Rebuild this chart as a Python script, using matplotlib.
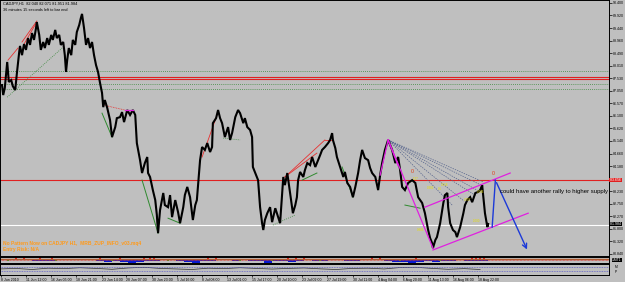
import matplotlib
matplotlib.use('Agg')
import matplotlib.pyplot as plt
import numpy as np

plt.rcParams['font.family'] = ['Liberation Sans', 'DejaVu Sans']

# H1 bar index and close
bars = [5, 8, 12, 18, 22, 28, 32, 38, 42, 48, 50, 55, 60, 65, 70, 75, 80, 85, 90, 92,
        98, 102, 108, 112, 118, 122, 128, 132, 138, 142, 148, 152, 158, 162, 165, 168,
        172, 178, 182, 188, 192, 198, 202, 205, 210, 215, 220, 225, 230, 235, 240, 245, 250,
        255, 258, 262, 268, 275, 280, 288, 292, 300, 305, 310, 318, 325, 332, 338, 342, 350,
        355, 362, 368, 370, 375, 382, 388, 392, 395, 400, 408, 412, 420, 425, 430, 438, 445,
        450, 458, 462, 468, 475, 482, 488, 492, 500, 505, 512, 518, 525, 530, 532, 540, 545,
        550, 555, 562, 570, 575, 580, 588, 595,
        600, 608, 612, 618, 625, 630, 632, 638, 645, 650, 655, 658, 662, 668, 675, 680, 688,
        692, 700, 708, 712, 718, 725, 732, 738, 742, 745, 750, 758, 762, 768, 775, 780, 788,
        795, 800, 805, 812, 820, 825, 830, 832, 838, 842, 850, 858, 862, 868, 875, 882, 888,
        895, 900, 905, 912, 920, 925, 930, 938, 945, 950, 955, 962, 970, 975, 980, 988, 995,
        1000, 1005, 1012, 1020, 1030, 1038, 1045, 1055, 1062, 1070, 1075, 1080, 1082, 1088,
        1092, 1100, 1108, 1112, 1118, 1120, 1125, 1132, 1138, 1142, 1150, 1158, 1162, 1168,
        1175, 1180, 1188, 1195, 1200, 1205, 1208, 1212, 1218, 1220]
close = [87.27, 86.89, 87.16, 88.15, 87.39, 87.46, 87.23, 87.08, 87.69, 88.53, 88.76, 88.41,
         88.83, 88.61, 89.06, 88.80, 89.25, 88.99, 89.44, 89.67, 89.18, 88.61, 88.91, 88.68,
         89.06, 88.80, 89.18, 88.99, 89.37, 89.06, 89.18, 88.80, 88.91, 88.41, 87.77, 88.23,
         88.68, 88.41, 88.99, 88.80, 89.29, 89.56, 89.82, 89.98, 89.44, 88.80, 89.06, 88.68,
         88.91, 88.41, 88.03, 87.77, 87.35,
         86.97, 86.43, 86.70, 86.40, 85.94, 85.29, 85.67, 86.01, 86.05, 86.24, 85.86, 86.32,
         86.13, 86.32, 86.13, 85.06, 84.41, 83.92, 84.30, 84.53, 83.92, 83.77, 83.27, 82.89,
         82.32, 81.63, 82.51, 83.16, 82.70, 82.62, 83.08, 82.24, 82.89, 82.43, 82.01, 82.62,
         83.08, 83.39, 83.00, 82.13, 82.70, 82.89, 84.41, 84.91, 84.80, 85.06, 84.72, 84.91,
         85.82, 86.01, 86.32, 86.01, 85.82, 85.29, 85.67, 85.18, 85.44, 86.05, 86.32,
         86.20, 85.82, 86.01, 85.67, 85.56, 85.29, 84.15, 83.92, 83.65, 82.62, 82.01, 81.75,
         82.13, 82.39, 82.62, 82.05, 82.58, 82.39, 82.01, 83.77, 83.46, 83.92, 83.16, 82.39,
         82.70, 83.00, 83.65, 83.96, 83.77, 84.03, 84.30, 84.22, 84.53, 84.15, 84.41, 84.60,
         84.80, 84.91, 85.06, 85.18, 85.44, 85.18, 84.87, 84.53, 84.15, 83.77, 83.96, 83.54,
         83.39, 83.00, 83.39, 83.92, 84.41, 84.80, 84.49, 84.41, 84.11, 83.92, 83.77, 83.27,
         83.84, 84.30, 84.80, 85.18, 84.99, 84.80, 84.30, 84.53,
         84.03, 83.39, 83.27, 83.54, 83.65, 83.54, 83.00, 82.78, 82.39, 81.75, 81.44, 81.25,
         81.06, 81.37, 81.48, 82.01, 82.78, 83.08, 83.16, 82.62, 82.01, 81.75, 81.67, 81.48,
         81.86, 82.39, 82.70, 82.89, 83.00, 82.81, 83.16, 83.20, 83.27, 83.46, 83.00, 82.39,
         81.86, 81.98]

# drawn objects (bar, price) pairs
red_lines = [((20, 88.22), (45, 88.68)), ((55, 88.91), (92, 89.71)), ((60, 88.83), (92, 89.67)),
             ((505, 84.53), (545, 86.24)), ((712, 83.77), (812, 85.18)), ((812, 85.18), (830, 85.18)),
             ((712, 83.77), (792, 84.68))]
red_dotted = [((258, 86.51), (312, 86.32))]
green_lines = [((255, 86.20), (280, 85.29)), ((355, 83.65), (395, 81.63)), ((420, 82.20), (450, 82.01)),
               ((755, 83.65), (792, 83.92)), ((855, 84.15), (882, 83.00)), ((1012, 82.70), (1050, 82.58))]
green_dotted = [((18, 86.81), (158, 88.72)), ((558, 85.25), (600, 85.18)), ((682, 81.94), (738, 82.32))]
magenta_lines = [((950, 83.84), (970, 85.18)), ((970, 85.18), (1082, 81.06)), ((970, 85.18), (995, 84.20)),
                 ((312, 86.32), (332, 86.32)),
                 ((1062, 82.62), (1275, 83.92)), ((1082, 80.99), (1320, 82.39))]
fan_ends = [(1208, 83.58), (1208, 83.42), (1200, 83.20), (1190, 83.05), (1160, 82.85), (1130, 82.70)]
fan_start = (970, 85.18)
fib_text = [(1075, 83.35, '0.382'), (1112, 83.45, '0.618'), (1100, 83.30, '0.5'), (1200, 83.20, '0.786'),
            (1168, 82.89, '0.707'), (1192, 82.10, '1.000'), (1050, 81.75, '0.886'), (1040, 83.70, '1.27')]
pattern_marks = [(1030, 83.96), (1232, 83.92)]
blue_arrow = [(1230, 81.86), (1238, 83.65), (1320, 80.91)]

red_hlines = [87.58, 87.50, 83.65]
green_hlines = [87.80, 87.31, 87.12]
white_hline = 81.94

price_ticks = [80.840, 81.320, 81.800, 82.270, 82.750, 83.230, 84.180, 84.660, 85.140,
               85.620, 86.100, 86.570, 87.050, 87.530, 88.010, 88.490, 88.960, 89.440, 89.920, 90.400]

time_ticks = [3, 65, 128, 191, 254, 316, 379, 442, 505, 567, 630, 693, 756, 818, 881, 944,
              1007, 1069, 1132, 1195]
time_labels = ['8 Jun 2010', '11 Jun 12:00', '16 Jun 05:00', '18 Jun 21:00', '23 Jun 14:00',
               '28 Jun 07:00', '30 Jun 23:00', '5 Jul 16:00', '8 Jul 08:00', '13 Jul 01:00',
               '15 Jul 17:00', '20 Jul 10:00', '23 Jul 02:00', '27 Jul 19:00', '30 Jul 11:00',
               '4 Aug 04:00', '6 Aug 20:00', '11 Aug 13:00', '16 Aug 06:00', '18 Aug 22:00']

# indicator 1 histogram (every 20 bars) and signals
hist_vals = [-0.2, -0.3, -0.2, -0.3, -0.4, -0.6, -0.5, -0.2, -0.1, -0.3, -0.2, -0.2, -0.5, -0.7,
             -0.6, -0.8, -0.9, -0.7, -0.4, -0.6, -0.3, -0.2, -0.5, -0.8, -0.9, -0.6, -0.4, -0.2,
             -0.3, -0.5, -0.3, -0.6, -0.5, -0.9, -0.6, -0.5, -0.7, -0.5, -0.2, -0.4, -0.6, -0.3,
             -0.2, -0.4, -0.6, -0.3, -0.2, -0.3, -0.6, -0.7, -0.8, -0.9, -0.7, -0.5, -0.8, -0.4,
             -0.6, -0.3, -0.5, -0.4, -0.6, -0.3]
red_sig = [40, 60, 100, 130, 250, 300, 360, 375, 385, 520, 540, 720, 740, 760, 930, 950, 1040,
           1180, 1190, 1200, 1210]
green_sig = [20, 140, 280, 420, 600, 680, 800, 1000, 1100]

# indicator 2 line (every 40 bars)
osc_vals = [0.55, 0.6, 0.5, 0.62, 0.58, 0.66, 0.6, 0.52, 0.64, 0.7, 0.6, 0.55, 0.5, 0.62, 0.58,
            0.66, 0.6, 0.54, 0.6, 0.64, 0.56, 0.5, 0.6, 0.62, 0.55, 0.68, 0.7, 0.6, 0.52, 0.58, 0.5]

bg = '#bfbfbf'
W, H = 625, 282
fig = plt.figure(figsize=(6.25, 2.82), dpi=100, facecolor=bg)

def rect(x0, y0, x1, y1):
    return [x0 / W, 1 - y1 / H, (x1 - x0) / W, (y1 - y0) / H]

ax = fig.add_axes(rect(0, 0, 609, 256), facecolor=bg)
ax1 = fig.add_axes(rect(0, 257, 609, 263), facecolor=bg, sharex=ax)
ax2 = fig.add_axes(rect(0, 264, 609, 275), facecolor=bg, sharex=ax)

ax.set_xlim(0, 1522)
ax.set_ylim(80.76, 90.51)

for p in green_hlines:
    ax.axhline(p, color='#3d8a3d', lw=0.6, ls=(0, (1, 1.5)))
for p in red_hlines:
    ax.axhline(p, color='#e02020', lw=0.8)
ax.axhline(white_hline, color='white', lw=0.8)

for (a, b) in green_dotted:
    ax.plot([a[0], b[0]], [a[1], b[1]], color='#3d8a3d', lw=0.6, ls=(0, (1, 1.5)))
for (a, b) in green_lines:
    ax.plot([a[0], b[0]], [a[1], b[1]], color='#2f8a2f', lw=0.7)
for (a, b) in red_lines:
    ax.plot([a[0], b[0]], [a[1], b[1]], color='#e83030', lw=0.6)
for (a, b) in red_dotted:
    ax.plot([a[0], b[0]], [a[1], b[1]], color='#e83030', lw=0.6, ls=(0, (1, 1)))
for e in fan_ends:
    ax.plot([fan_start[0], e[0]], [fan_start[1], e[1]], color='#56648c', lw=0.5, ls=(0, (2, 1.5)))

ax.plot(bars, close, color='black', lw=1.5, solid_joinstyle='miter')

for (a, b) in magenta_lines:
    ax.plot([a[0], b[0]], [a[1], b[1]], color='#e020e0', lw=0.9)

for (bx, p, s) in fib_text:
    ax.text(bx, p, s, fontsize=2.2, color='#e8e000', ha='center', va='center')
for (bx, p) in pattern_marks:
    ax.text(bx, p, '0', fontsize=3.8, color='#e03a10', ha='center', va='center')

ax.plot([blue_arrow[0][0], blue_arrow[1][0]], [blue_arrow[0][1], blue_arrow[1][1]],
        color='#1c3ad8', lw=1)
ax.annotate('', xy=blue_arrow[2], xytext=blue_arrow[1],
            arrowprops=dict(arrowstyle='->', color='#1c3ad8', lw=1, mutation_scale=8))

ax.text(1250, 83.20, 'could have another rally to higher supply', fontsize=4.3,
        color='black', ha='left', va='center')

ax.text(3 / 609, 1 - 2 / 256, 'CADJPY,H1  82.040 82.071 81.951 81.984', transform=ax.transAxes,
        fontsize=2.8, va='top', ha='left', color='black')
ax.text(3 / 609, 1 - 8 / 256, '36 minutes 15 seconds left to bar end', transform=ax.transAxes,
        fontsize=2.8, va='top', ha='left', color='black')
ax.text(3 / 609, 1 - 243 / 256, 'No Pattern Now on CADJPY H1,  MRB_ZUP_INFO_v03.mq4',
        transform=ax.transAxes, fontsize=3.5, fontweight='bold', va='center', ha='left',
        color='#ff9a1a')
ax.text(3 / 609, 1 - 250 / 256, 'Entry Risk: N/A', transform=ax.transAxes, fontsize=3.5,
        fontweight='bold', va='center', ha='left', color='#ff9a1a')

ax.yaxis.tick_right()
ax.set_yticks(price_ticks)
ax.set_yticklabels(['%.3f' % v for v in price_ticks])
ax.tick_params(axis='y', labelsize=2.6, length=2, width=0.5, pad=1, colors='black')
ax.tick_params(axis='x', bottom=False, labelbottom=False)

ax.text(1.0, 83.65, ' 83.656 ', transform=ax.get_yaxis_transform(), fontsize=2.6, color='white',
        ha='left', va='center', bbox=dict(boxstyle='square,pad=0.1', fc='#e02020', ec='none'))
ax.text(1.0, 81.984, ' 81.984 ', transform=ax.get_yaxis_transform(), fontsize=2.6, color='white',
        ha='left', va='center', bbox=dict(boxstyle='square,pad=0.1', fc='black', ec='none'))

# indicator 1
hx = np.arange(len(hist_vals)) * 20
ax1.bar(hx, hist_vals, width=20, color='#0a1ad0', align='edge')
ax1.axhline(0, color='#b05a30', lw=1)
ax1.axhline(-0.35, color='#e03030', lw=0.5, ls=(0, (1, 1)))
ax1.scatter(red_sig, [0.25] * len(red_sig), s=1.8, color='#e02020', marker='s', lw=0)
ax1.scatter(green_sig, [-0.3] * len(green_sig), s=1.8, color='#20b020', marker='s', lw=0)
ax1.set_ylim(-0.95, 0.4)
ax1.set_yticks([])
ax1.tick_params(axis='x', bottom=False, labelbottom=False)
ax1.text(1.005, 0.5, '1.MT1', transform=ax1.transAxes, fontsize=2.4, color='white', va='center',
         bbox=dict(boxstyle='square,pad=0.1', fc='black', ec='none'))

# indicator 2
ox = np.arange(len(osc_vals)) * 40
ax2.plot(ox, osc_vals, color='#303030', lw=0.5)
ax2.axhline(0.75, color='#6060c8', lw=0.6, ls=(0, (1, 1)))
ax2.axhline(0.35, color='#6060c8', lw=0.6, ls=(0, (1, 1)))
ax2.set_ylim(0, 1)
ax2.set_yticks([])
ax2.text(1.01, 0.75, 'MI', transform=ax2.transAxes, fontsize=2.4, color='black', va='center')
ax2.text(1.01, 0.3, 'P', transform=ax2.transAxes, fontsize=2.4, color='black', va='center')

ax2.set_xticks(time_ticks)
ax2.set_xticklabels(time_labels, ha='left')
ax2.tick_params(axis='x', labelsize=2.5, length=1.5, width=0.5, pad=0.5, colors='black')

for a in (ax, ax1, ax2):
    for s in a.spines.values():
        s.set_color('black')
        s.set_linewidth(0.7)

fig.savefig('out.png', dpi=100, facecolor=bg)
